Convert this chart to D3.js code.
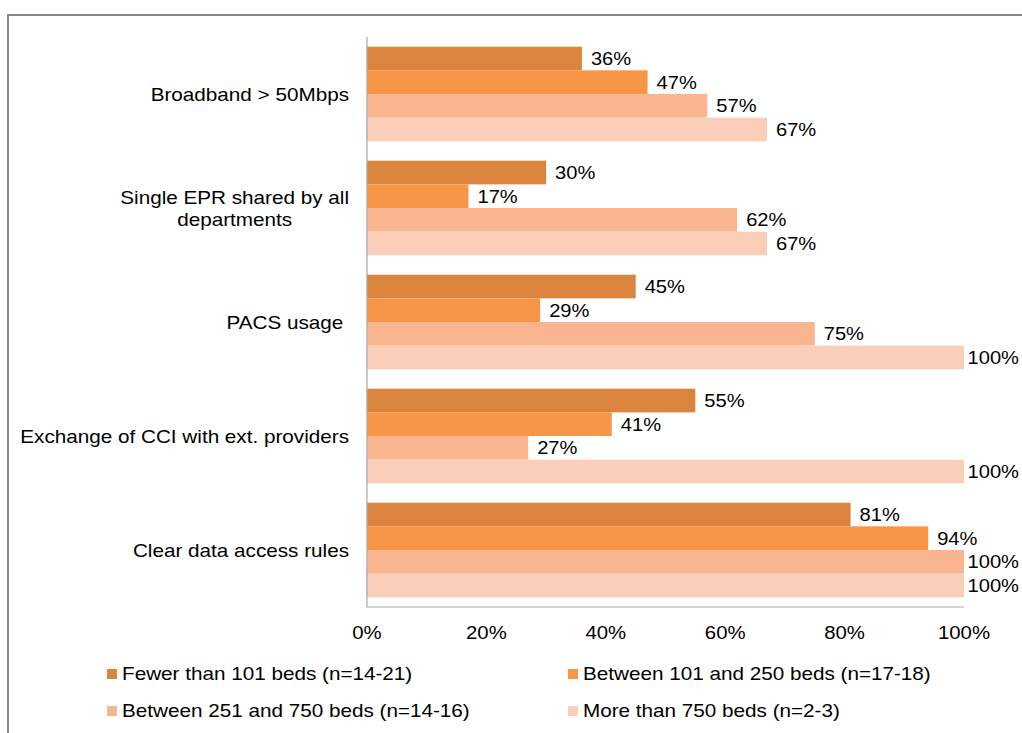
<!DOCTYPE html>
<html>
<head>
<meta charset="utf-8">
<script src="https://cdn.jsdelivr.net/npm/d3@7"></script>
<style>
  body { margin: 0; background: #fff; }
  svg text { font-family: "Liberation Sans", Arial, sans-serif; fill: #000; white-space: pre; }
</style>
</head>
<body>
<svg id="chart" width="1022" height="733"></svg>
<script>
// Categories (top to bottom), "\n" marks the line break of the label
var categories = [
  "Broadband > 50Mbps",
  "Single EPR shared by all\ndepartments",
  "PACS usage ",
  "Exchange of CCI with ext. providers",
  "Clear data access rules"
];

// Series names and values (%)
var seriesNames = [
  "Fewer than 101 beds (n=14-21)",
  "Between 101 and 250 beds (n=17-18)",
  "Between 251 and 750 beds (n=14-16)",
  "More than 750 beds (n=2-3)"
];
var fewer101 = [36, 30, 45, 55, 81];
var between101and250 = [47, 17, 29, 41, 94];
var between251and750 = [57, 62, 75, 27, 100];
var moreThan750 = [67, 67, 100, 100, 100];

var xTicks = [0, 20, 40, 60, 80, 100];

var colors = ["#DA843E", "#F79646", "#F9B590", "#FBCEB9"];

/*
** SETUP
*/
var seriesValues = [fewer101, between101and250, between251and750, moreThan750];
var svg = d3.select("#chart");
var sx = 1.15; // horizontal stretch of the original text
var margin = { left: 367, right: 964, top: 37, bottom: 607 };

// Helper to draw stretched text at a point
function addText(g, x, y, str, size, anchor, scale) {
  return g.append("text")
    .attr("transform", "translate(" + x + "," + y + ") scale(" + (scale || sx) + ",1)")
    .attr("text-anchor", anchor || "start")
    .style("font-size", size + "px")
    .text(str);
}

// Outer frame (cut off on the right and bottom)
svg.append("rect")
  .attr("x", 8).attr("y", 15)
  .attr("width", 1100).attr("height", 800)
  .attr("fill", "none")
  .attr("stroke", "#878787")
  .attr("stroke-width", 2);

var xScale = d3.scaleLinear().domain([0, 100]).range([margin.left, margin.right]);
var yScale = d3.scaleBand().domain(d3.range(categories.length))
  .range([margin.top, margin.bottom])
  .paddingInner(0.17).paddingOuter(0.085);
var ySub = d3.scaleBand().domain(d3.range(seriesNames.length)).range([0, yScale.bandwidth()]);

/*
** BARS AND LABELS
*/
var groups = svg.selectAll(".group")
  .data(categories)
  .enter()
  .append("g")
    .classed("group", true)
    .attr("transform", (d, i) => "translate(0," + yScale(i) + ")");

groups.each(function (cat, ci) {
  var g = d3.select(this);
  seriesValues.forEach((vals, si) => {
    var v = vals[ci];
    g.append("rect")
      .attr("x", xScale(0))
      .attr("y", ySub(si))
      .attr("width", xScale(v) - xScale(0))
      .attr("height", ySub.bandwidth())
      .attr("fill", colors[si]);

    var lbl = addText(g, 0, 0, v + "%", 17.5, "start");
    var w = lbl.node().getComputedTextLength() * sx;
    var lx = Math.min(xScale(v) + 9, 1019 - w);
    lbl.attr("transform", "translate(" + lx + "," + (ySub(si) + ySub.bandwidth() / 2 + 6.5) + ") scale(" + sx + ",1)");
  });

  // Category label, lines centred on each other and right aligned as a block
  var lines = cat.split("\n");
  var center = yScale.bandwidth() / 2;
  var lineH = 22;
  var texts = lines.map((ln, li) => addText(g, 0, 0, ln, 18, "middle"));
  var maxW = d3.max(texts, t => t.node().getComputedTextLength() * sx);
  var cx = 349 - maxW / 2;
  texts.forEach((t, li) => {
    var y = center + 6.5 + (li - (lines.length - 1) / 2) * lineH;
    t.attr("transform", "translate(" + cx + "," + y + ") scale(" + sx + ",1)");
  });
});

/*
** AXES
*/
svg.append("line")
  .attr("x1", xScale(0)).attr("x2", xScale(0))
  .attr("y1", margin.top).attr("y2", margin.bottom)
  .attr("stroke", "#A6A6A6").attr("stroke-width", 1.2);
svg.append("line")
  .attr("x1", xScale(0)).attr("x2", xScale(100))
  .attr("y1", margin.bottom).attr("y2", margin.bottom)
  .attr("stroke", "#A6A6A6").attr("stroke-width", 1.2);

xTicks.forEach(t => {
  addText(svg, xScale(t), 639, t + "%", 18.5, "middle", 1.1);
});

/*
** LEGEND
*/
var legendX = [107, 568];
var legendY = [680, 717];
seriesNames.forEach((name, i) => {
  var lx = legendX[i % 2];
  var ly = legendY[Math.floor(i / 2)];
  svg.append("rect")
    .attr("x", lx).attr("y", ly - 11)
    .attr("width", 10).attr("height", 10)
    .attr("fill", colors[i]);
  addText(svg, lx + 15, ly, name, 18, "start");
});
</script>
</body>
</html>
